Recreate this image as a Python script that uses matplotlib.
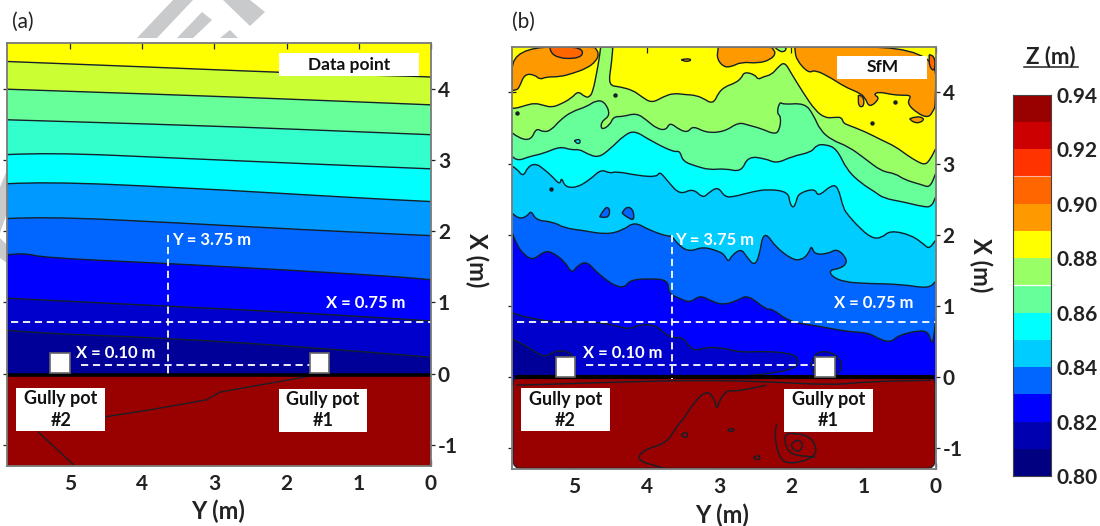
import matplotlib
matplotlib.use("Agg")
import matplotlib.pyplot as plt
from matplotlib.colors import ListedColormap, BoundaryNorm
from matplotlib.lines import Line2D
from matplotlib.patches import FancyBboxPatch, PathPatch, Polygon, Rectangle
from matplotlib.path import Path

plt.rcParams['font.family'] = ['Lato', 'DejaVu Sans']
plt.rcParams['axes.unicode_minus'] = False

W, H = 1100, 526
LINE = '#14202a'

# colour scale
z_levels = [0.80, 0.81, 0.82, 0.83, 0.84, 0.85, 0.86, 0.87, 0.88, 0.89, 0.90, 0.91, 0.92, 0.93, 0.94]
z_colors = ['#000080', '#0000B0', '#0000FF', '#0066FF', '#00CCFF', '#00FFFF', '#66FF99',
            '#99FF66', '#FFFF00', '#FF9900', '#FF6600', '#FF3300', '#CC0000', '#990000']
z_ticks = [0.80, 0.82, 0.84, 0.86, 0.88, 0.90, 0.92, 0.94]

# panel (a), contour lines as (Y, X), highest first
a_y_89 = [5.87, 3.60, 1.70, 0.16, 0.0]
a_x_89 = [4.39, 4.30, 4.22, 4.18, 4.17]
a_y_88 = [5.87, 3.50, 1.70, 0.0]
a_x_88 = [4.00, 3.92, 3.85, 3.78]
a_y_87 = [5.87, 3.50, 1.70, 0.0]
a_x_87 = [3.57, 3.50, 3.43, 3.36]
a_y_86 = [5.87, 5.30, 3.50, 1.70, 0.0]
a_x_86 = [3.08, 3.11, 3.03, 2.95, 2.88]
a_y_85 = [5.87, 5.36, 3.50, 1.00, 0.0]
a_x_85 = [2.67, 2.70, 2.62, 2.47, 2.42]
a_y_84 = [5.87, 5.36, 3.50, 1.70, 0.0]
a_x_84 = [2.18, 2.21, 2.12, 2.02, 1.94]
a_y_83 = [5.87, 5.64, 5.37, 3.66, 1.70, 0.43, 0.0]
a_x_83 = [1.67, 1.70, 1.63, 1.55, 1.44, 1.36, 1.32]
a_y_82 = [5.87, 3.66, 1.70, 0.0]
a_x_82 = [1.06, 0.95, 0.85, 0.74]
a_y_81 = [5.87, 5.50, 3.66, 1.70, 0.0]
a_x_81 = [0.61, 0.57, 0.50, 0.37, 0.23]
a_colors = ['#000099', '#0000CC', '#0000FF', '#0066FF', '#0099FF', '#00FFFF', '#33FFCC',
            '#66FF99', '#CCFF33', '#FFFF00']
a_red_y1 = [4.52, 3.89, 3.11, 2.92, 1.70]
a_red_x1 = [-0.61, -0.51, -0.37, -0.26, -0.04]
a_red_y2 = [5.44, 4.93]
a_red_x2 = [-0.82, -1.30]

# panel (b), contour lines as (Y, X), highest first
b_y_88 = [5.86, 5.83, 5.67, 5.55, 5.43, 5.32, 5.20, 5.04, 4.95, 4.86, 4.79, 4.74, 4.69, 4.66, 4.64, 4.64, 4.47, 4.47,
          4.49, 4.53, 4.37, 4.19, 4.07, 3.93, 3.77, 3.63, 3.47, 3.31, 3.17, 3.13, 3.06, 3.01, 2.92, 2.78, 2.69, 2.65,
          2.50, 2.46, 2.39, 2.27, 2.18, 2.09, 2.00, 1.83, 1.67, 1.53, 1.39, 1.30, 1.28, 1.21, 0.98, 0.75, 0.56, 0.40,
          0.26, 0.15, 0.08, 0.0]
b_x_88 = [3.78, 3.77, 3.82, 3.85, 3.82, 3.79, 3.83, 3.92, 4.02, 3.94, 3.93, 4.03, 4.29, 4.46, 4.61, 4.64, 4.64, 4.61,
          4.39, 4.10, 4.08, 4.03, 3.94, 3.85, 3.94, 3.99, 3.97, 3.96, 3.89, 3.86, 3.87, 3.99, 4.08, 4.13, 4.20, 4.29,
          4.25, 4.18, 4.22, 4.25, 4.36, 4.43, 4.27, 3.99, 3.75, 3.64, 3.65, 3.65, 3.57, 3.54, 3.45, 3.33, 3.24, 3.12,
          3.03, 2.98, 3.05, 3.21]
b_y_87 = [5.86, 5.76, 5.60, 5.53, 5.43, 5.32, 5.20, 5.04, 4.83, 4.70, 4.58, 4.50, 4.63, 4.63, 4.51, 4.46, 4.33, 4.14,
          4.00, 3.86, 3.73, 3.68, 3.54, 3.43, 3.36, 3.17, 2.92, 2.73, 2.59, 2.41, 2.23, 2.16, 2.14, 2.20, 2.16, 2.11,
          1.81, 1.69, 1.60, 1.44, 1.21, 0.98, 0.75, 0.56, 0.43, 0.19, 0.08, 0.0]
b_x_87 = [3.43, 3.35, 3.33, 3.50, 3.44, 3.47, 3.61, 3.73, 3.80, 3.89, 3.87, 3.68, 3.59, 3.47, 3.54, 3.66, 3.66, 3.71,
          3.61, 3.49, 3.47, 3.58, 3.47, 3.44, 3.53, 3.43, 3.45, 3.58, 3.54, 3.49, 3.41, 3.47, 3.66, 3.71, 3.87, 3.83,
          3.85, 3.68, 3.47, 3.33, 3.24, 3.07, 2.89, 2.86, 2.77, 2.70, 2.66, 2.86]
b_y_86 = [5.86, 5.80, 5.62, 5.43, 5.20, 5.04, 4.93, 4.83, 4.67, 4.51, 4.30, 4.16, 3.96, 3.63, 3.54, 3.50, 3.31, 3.13,
          2.92, 2.69, 2.60, 2.36, 2.20, 1.99, 1.72, 1.65, 1.53, 1.37, 1.23, 1.03, 0.84, 0.72, 0.45, 0.17, 0.06, 0.0]
b_x_86 = [3.10, 3.03, 3.10, 3.14, 3.24, 3.19, 3.20, 3.14, 3.08, 3.20, 3.41, 3.46, 3.33, 3.16, 3.18, 3.03, 2.96, 2.91,
          2.93, 2.88, 3.10, 3.07, 3.00, 3.10, 3.16, 3.26, 3.27, 3.21, 2.91, 2.72, 2.60, 2.51, 2.46, 2.39, 2.39, 2.53]
b_y_85 = [5.86, 5.80, 5.71, 5.64, 5.53, 5.41, 5.30, 5.20, 5.18, 5.13, 4.97, 4.79, 4.63, 4.51, 4.42, 4.12, 3.86, 3.82,
          3.70, 3.54, 3.36, 3.22, 3.13, 3.01, 2.92, 2.80, 2.55, 2.32, 2.04, 2.02, 1.97, 1.93, 1.90, 1.67, 1.63, 1.44,
          1.35, 1.28, 1.21, 1.07, 0.89, 0.75, 0.63, 0.33, 0.15, 0.09, 0.0]
b_x_85 = [2.96, 2.93, 2.81, 2.96, 3.00, 2.91, 2.81, 2.70, 2.81, 2.67, 2.66, 2.77, 2.92, 2.86, 2.89, 2.83, 2.81, 2.89,
          2.74, 2.56, 2.65, 2.51, 2.60, 2.67, 2.53, 2.53, 2.60, 2.64, 2.60, 2.44, 2.37, 2.46, 2.58, 2.65, 2.53, 2.70,
          2.67, 2.37, 2.27, 2.11, 1.95, 1.95, 2.06, 1.99, 1.85, 1.80, 1.92]
b_y_84 = [5.86, 5.78, 5.66, 5.60, 5.53, 5.30, 5.13, 4.90, 4.56, 4.33, 4.17, 3.96, 3.70, 3.66, 3.54, 3.40, 3.22, 2.99,
          2.92, 2.87, 2.82, 2.69, 2.62, 2.50, 2.43, 2.40, 2.33, 2.22, 1.99, 1.86, 1.76, 1.72, 1.68, 1.49, 1.37, 1.25,
          1.23, 1.33, 1.47, 1.44, 1.26, 0.93, 0.47, 0.10, 0.0]
b_x_84 = [2.30, 2.22, 2.25, 2.34, 2.20, 2.18, 2.09, 2.06, 2.00, 2.06, 2.18, 2.06, 1.97, 1.99, 1.83, 1.76, 1.83, 1.76,
          1.71, 1.61, 1.71, 1.80, 1.69, 1.55, 1.76, 1.97, 2.00, 1.83, 1.65, 1.64, 1.73, 1.85, 1.72, 1.73, 1.80, 1.69,
          1.59, 1.52, 1.50, 1.41, 1.33, 1.31, 1.30, 1.24, 1.34]
b_y_83 = [5.86, 5.80, 5.69, 5.57, 5.43, 5.32, 5.13, 5.04, 4.95, 4.83, 4.70, 4.56, 4.42, 4.30, 4.23, 3.96, 3.70, 3.70,
          3.54, 3.40, 3.26, 3.08, 2.92, 2.73, 2.60, 2.34, 2.27, 2.02, 1.67, 1.21, 0.93, 0.75, 0.61, 0.52, 0.24, 0.10,
          0.06, 0.03, 0.0]
b_x_83 = [2.02, 1.85, 1.71, 1.64, 1.76, 1.76, 1.62, 1.45, 1.57, 1.62, 1.48, 1.36, 1.27, 1.26, 1.36, 1.38, 1.36, 1.17,
          1.10, 1.04, 1.15, 1.05, 1.01, 1.08, 1.15, 0.94, 0.96, 0.77, 0.72, 0.63, 0.62, 0.51, 0.49, 0.58, 0.65, 0.63,
          0.47, 0.51, 0.82]
b_y_82 = [5.86, 5.76, 5.53, 5.30, 4.65, 4.37, 4.23, 4.12, 3.89, 3.75, 3.63, 3.50, 3.36, 3.17, 2.92, 2.69, 2.41, 1.99,
          1.88, 1.95, 2.32, 2.64, 3.00]
b_x_82 = [0.90, 0.86, 0.81, 0.77, 0.77, 0.70, 0.67, 0.73, 0.73, 0.61, 0.54, 0.56, 0.35, 0.42, 0.40, 0.34, 0.36, 0.33,
          0.23, 0.11, 0.04, 0.01, 0.0]
b_y_82b = [1.73, 1.69, 1.58, 1.44, 1.33, 1.29, 1.35, 1.42, 1.68]
b_x_82b = [0.16, 0.30, 0.36, 0.34, 0.26, 0.14, 0.04, 0.0, 0.0]
b_y_81 = [5.86, 5.67, 5.48, 5.37, 5.30, 5.13, 5.02, 4.97, 5.02]
b_x_81 = [0.53, 0.44, 0.30, 0.29, 0.35, 0.37, 0.30, 0.16, 0.02]
b_orange = [
    ([5.86, 5.80, 5.76, 5.69, 5.55, 5.48, 5.39, 5.20, 5.02, 4.83, 4.70, 4.66, 4.71, 4.71, 5.86],
     [4.03, 4.03, 4.08, 4.26, 4.25, 4.18, 4.22, 4.22, 4.27, 4.34, 4.44, 4.55, 4.62, 4.64, 4.64]),
    ([3.01, 3.01, 3.03, 2.94, 2.83, 2.69, 2.46, 2.29, 2.21, 2.26, 2.26],
     [4.64, 4.62, 4.48, 4.36, 4.36, 4.43, 4.41, 4.46, 4.55, 4.62, 4.64]),
    ([1.95, 1.95, 1.93, 1.76, 1.67, 1.44, 1.26, 1.09, 0.98, 0.92, 0.77, 0.86, 0.79, 0.61, 0.47, 0.33, 0.40, 0.26, 0.10,
      0.03, 0.0, 0.0],
     [4.64, 4.62, 4.46, 4.27, 4.32, 4.20, 4.08, 4.01, 3.94, 3.78, 3.92, 3.97, 4.01, 3.97, 3.96, 3.96, 3.85, 3.71, 3.64,
      3.75, 3.82, 4.64]),
    ([0.36, 0.26, 0.15, 0.22, 0.31], [3.63, 3.67, 3.63, 3.57, 3.58]),
    ([1.07, 1.00, 0.99, 1.07], [3.96, 3.96, 3.80, 3.80]),
    ([3.52, 3.45, 3.37, 3.45], [4.46, 4.48, 4.46, 4.43]),
]
b_dark_orange = [
    ([5.34, 5.33, 4.90, 4.88], [4.64, 4.49, 4.47, 4.64]),
    ([0.09, 0.01, 0.01, 0.09], [4.53, 4.53, 4.29, 4.36]),
]
b_green_y = [2.23, 2.13, 2.04]
b_green_x = [4.64, 4.54, 4.64]
b_cyan_y = [5.00, 4.95, 4.91, 4.95]
b_cyan_x = [3.32, 3.35, 3.31, 3.27]
b_blue = [
    ([4.65, 4.58, 4.51, 4.52, 4.60], [2.25, 2.39, 2.37, 2.25, 2.24]),
    ([4.34, 4.30, 4.19, 4.17, 4.28], [2.30, 2.39, 2.37, 2.19, 2.25]),
]
b_dot_y = [4.44, 0.88, 0.57, 5.79, 5.32]
b_dot_x = [3.96, 3.57, 3.87, 3.71, 2.64]
b_red_lines = [
    ([5.80, 5.11, 4.19, 3.26, 2.34, 1.42, 0.95, 0.06], [-0.12, -0.10, -0.07, -0.05, -0.07, -0.12, -0.07, -0.05]),
    ([3.73, 3.82, 4.14, 4.05, 3.73, 3.59, 3.47, 3.36, 3.17, 3.06, 3.03, 2.99, 2.89, 2.76, 2.34],
     [-1.30, -1.27, -1.18, -1.03, -0.94, -0.71, -0.57, -0.38, -0.19, -0.31, -0.47, -0.33, -0.19, -0.21, -0.12]),
    ([2.20, 2.24, 2.16, 1.97, 1.67, 1.65, 1.74, 1.90, 2.11, 2.06, 1.95, 1.67],
     [-0.66, -0.80, -1.18, -1.23, -1.13, -0.99, -0.85, -0.80, -0.80, -1.03, -1.11, -1.13]),
    ([2.00, 1.93, 1.83, 1.88, 1.97, 2.00], [-0.96, -0.87, -0.94, -1.06, -1.03, -0.96]),
    ([3.52, 3.47, 3.42, 3.47, 3.52], [-0.82, -0.77, -0.82, -0.87, -0.82]),
    ([2.88, 2.83, 2.78, 2.83, 2.88], [-0.75, -0.72, -0.75, -0.78, -0.75]),
    ([2.52, 2.47, 2.42, 2.47, 2.52], [-1.14, -1.10, -1.14, -1.18, -1.14]),
]
b_colors = ['#000099', '#0000CC', '#0000FF', '#0066FF', '#00CCFF', '#00FFFF', '#66FF99', '#99FF66', '#FFFF00',
            '#FF9900', '#FF6600']
RED = '#990000'

y_ticks = [5, 4, 3, 2, 1, 0]
x_ticks = [4, 3, 2, 1, 0, -1]


def px_axes(fig, left, right, top, bottom):
    return fig.add_axes([left / W, 1 - bottom / H, (right - left) / W, (bottom - top) / H])


def curve_verts(pts):
    # quadratic curves through midpoints, so the corners of a traced contour stay round
    verts = [pts[0]]
    codes = [Path.MOVETO]
    for p, q in zip(pts[1:-1], pts[2:]):
        verts += [p, ((p[0] + q[0]) / 2, (p[1] + q[1]) / 2)]
        codes += [Path.CURVE3, Path.CURVE3]
    verts.append(pts[-1])
    codes.append(Path.LINETO)
    return verts, codes


def contour(ax, ys, xs, z=3, closed=False):
    pts = list(zip(ys, xs))
    if closed:
        pts.append(pts[0])
    verts, codes = curve_verts(pts)
    ax.add_patch(PathPatch(Path(verts, codes), fc='none', ec=LINE, lw=1.0, zorder=z))


def fill_below(ax, ys, xs, color, y_left, floor=-0.12):
    verts, codes = curve_verts(list(zip(ys, xs)))
    verts += [(0, floor), (y_left, floor), verts[0]]
    codes += [Path.LINETO, Path.LINETO, Path.LINETO]
    ax.add_patch(PathPatch(Path(verts, codes), fc=color, ec='none', zorder=2))
    contour(ax, ys, xs)


def island(ax, ys, xs, color):
    pts = list(zip(ys, xs))
    pts.append(pts[0])
    verts, codes = curve_verts(pts)
    ax.add_patch(PathPatch(Path(verts, codes), fc=color, ec=LINE, lw=1.0, zorder=3))


def pot_box(ax, y, x0):
    ax.add_patch(Rectangle((y, x0), -0.27, 0.28, fc='white', ec='#666666', lw=1.2, zorder=7))


def label_box(ax, y1, y2, x1, x2, lines, size=13):
    ax.add_patch(Rectangle((y1, x1), y2 - y1, x2 - x1, fc='white', ec='none', zorder=7))
    ax.text((y1 + y2) / 2, (x1 + x2) / 2, lines, ha='center', va='center', fontsize=size, fontweight='bold',
            linespacing=1.3, color='#111111', zorder=8)


def style_axes(ax, xlim, ylim):
    ax.set_xlim(*xlim)
    ax.set_ylim(*ylim)
    ax.set_xticks(y_ticks)
    ax.set_yticks(x_ticks)
    ax.yaxis.tick_right()
    ax.tick_params(axis='x', direction='in', top=True, length=4, width=0.9, labelsize=15, pad=6, colors='#222222')
    ax.tick_params(axis='y', direction='inout', left=True, length=6, width=0.9, labelsize=15, pad=2, colors='#222222')
    for lab in ax.get_xticklabels() + ax.get_yticklabels():
        lab.set_fontweight('bold')
    for s in ax.spines.values():
        s.set_color('#7a7a7a')
        s.set_linewidth(1.3)
        s.set_zorder(9)


def guides(ax, v_y, v_top, h_x, h_from, low_x, low_from, low_to):
    kw = dict(color='white', lw=1.3, dashes=(4, 2.6), zorder=6)
    ax.plot([v_y, v_y], [v_top, -0.03], **kw)
    ax.plot([h_from, 0.0], [h_x, h_x], **kw)
    ax.plot([low_from, low_to], [low_x, low_x], **kw)


fig = plt.figure(figsize=(W / 100, H / 100), dpi=100)

# grey watermark behind the panels
bg = fig.add_axes([0, 0, 1, 1], zorder=-1)
bg.set_xlim(0, W)
bg.set_ylim(H, 0)
bg.axis('off')
for poly in [[(137, 38), (173, 0), (193, 0), (157, 38)], [(177, 38), (202, 12), (212, 20), (193, 38)],
             [(220, 38), (230, 30), (238, 38)], [(223, 0), (250, 0), (265, 12), (250, 26)],
             [(0, 187), (7, 170), (7, 213), (0, 233)], [(0, 238), (7, 245), (7, 263), (0, 258)]]:
    bg.add_patch(Polygon(poly, closed=True, fc='#C9CACC', ec='none'))

# panel (a)
ax = px_axes(fig, 7, 431, 43, 466)
style_axes(ax, (5.87, 0), (-1.30, 4.65))
ax.add_patch(Rectangle((0, -0.12), 5.87, 4.77, fc=a_colors[-1], ec='none', zorder=1))
a_lines = [(a_y_89, a_x_89), (a_y_88, a_x_88), (a_y_87, a_x_87), (a_y_86, a_x_86), (a_y_85, a_x_85),
           (a_y_84, a_x_84), (a_y_83, a_x_83), (a_y_82, a_x_82), (a_y_81, a_x_81)]
for i, (ys, xs) in enumerate(a_lines):
    fill_below(ax, ys, xs, a_colors[-2 - i], 5.87)
ax.add_patch(Rectangle((0, -1.30), 5.87, 1.28, fc=RED, ec='none', zorder=4))
ax.plot(a_red_y1, a_red_x1, color=LINE, lw=0.9, zorder=5)
ax.plot(a_red_y2, a_red_x2, color=LINE, lw=0.9, zorder=5)
ax.plot([5.87, 0], [-0.02, -0.02], color='black', lw=2.6, zorder=5, solid_capstyle='butt')
guides(ax, 3.64, 1.95, 0.73, 5.82, 0.115, 4.84, 1.68)
pot_box(ax, 5.27, 0.01)
pot_box(ax, 1.68, 0.01)
label_box(ax, 2.11, 0.16, 4.18, 4.51, 'Data point', 12.5)
label_box(ax, 5.74, 4.51, -0.81, -0.20, 'Gully pot\n#2')
label_box(ax, 2.11, 0.88, -0.82, -0.21, 'Gully pot\n#1')
wt = dict(color='white', fontsize=12, fontweight='bold', va='center', ha='left', zorder=8)
ax.text(3.58, 1.88, 'Y = 3.75 m', **wt)
ax.text(1.46, 0.99, 'X = 0.75 m', **wt)
ax.text(4.92, 0.29, 'X = 0.10 m', **wt)

# panel (b)
bx = px_axes(fig, 512.3, 935.7, 47, 469)
style_axes(bx, (5.86, 0), (-1.30, 4.64))
bx.add_patch(Rectangle((0, -0.12), 5.86, 4.76, fc=b_colors[8], ec='none', zorder=1))
for ys, xs in b_orange:
    island(bx, ys, xs, b_colors[9])
for ys, xs in b_dark_orange:
    island(bx, ys, xs, b_colors[10])
for i, (ys, xs) in enumerate([(b_y_88, b_x_88), (b_y_87, b_x_87), (b_y_86, b_x_86), (b_y_85, b_x_85),
                              (b_y_84, b_x_84), (b_y_83, b_x_83)]):
    fill_below(bx, ys, xs, b_colors[7 - i], 5.86)
    if i == 0:
        island(bx, b_green_y, b_green_x, b_colors[7])
    if i == 2:
        island(bx, b_cyan_y, b_cyan_x, b_colors[5])
    if i == 3:
        for iy, ix in b_blue:
            island(bx, iy, ix, b_colors[3])
for ys, xs, col in [(b_y_82, b_x_82, b_colors[1]), (b_y_81, b_x_81, b_colors[0])]:
    verts, codes = curve_verts(list(zip(ys, xs)))
    verts += [(5.86, -0.05), verts[0]]
    codes += [Path.LINETO, Path.LINETO]
    bx.add_patch(PathPatch(Path(verts, codes), fc=col, ec='none', zorder=3))
    contour(bx, ys, xs, z=3)
island(bx, b_y_82b, b_x_82b, b_colors[1])
bx.plot(b_dot_y, b_dot_x, ls='none', marker='o', ms=2.2, color=LINE, zorder=4)
bx.add_patch(FancyBboxPatch((0.01, -1.29), 5.84, 1.29, boxstyle='round,pad=0,rounding_size=0.11',
                            fc=RED, ec=LINE, lw=0.8, zorder=4))
for ys, xs in b_red_lines:
    contour(bx, ys, xs, z=5)
bx.plot([5.80, 0.05], [-0.01, -0.01], color='black', lw=3, zorder=5)
guides(bx, 3.65, 2.00, 0.77, 5.80, 0.157, 4.84, 1.67)
pot_box(bx, 5.26, 0.0)
pot_box(bx, 1.67, 0.0)
label_box(bx, 1.36, 0.12, 4.19, 4.52, 'SfM', 12.5)
label_box(bx, 5.74, 4.51, -0.77, -0.16, 'Gully pot\n#2')
label_box(bx, 2.10, 0.87, -0.78, -0.17, 'Gully pot\n#1')
bx.text(3.60, 1.92, 'Y = 3.75 m', **wt)
bx.text(1.41, 1.03, 'X = 0.75 m', **wt)
bx.text(4.88, 0.33, 'X = 0.10 m', **wt)

# colour bar
cax = px_axes(fig, 1013, 1051, 94.5, 476)
cmap = ListedColormap(z_colors)
cax.pcolormesh([0, 1], z_levels, [[z] for z in z_levels[:-1]], cmap=cmap, norm=BoundaryNorm(z_levels, cmap.N))
cax.set_xticks([])
cax.set_yticks(z_ticks)
cax.set_yticklabels([f'{t:.2f}' for t in z_ticks], fontsize=15, fontweight='bold', color='#222222')
cax.yaxis.tick_right()
cax.tick_params(axis='y', length=0, pad=4)
cax.axhline(0.87, color='white', lw=0.9)
cax.axhline(0.91, color='#ffb0a0', lw=0.8)
for s in cax.spines.values():
    s.set_color('#444444')
    s.set_linewidth(0.8)

# labels in figure space
ftxt = dict(transform=fig.transFigure, ha='center', va='center', color='#222222')
fig.text(23 / W, 1 - 22 / H, '(a)', fontsize=15, **ftxt)
fig.text(523 / W, 1 - 22 / H, '(b)', fontsize=15, **ftxt)
fig.text(218 / W, 1 - 511 / H, 'Y (m)', fontsize=17, fontweight='bold', **ftxt)
fig.text(722 / W, 1 - 515 / H, 'Y (m)', fontsize=17, fontweight='bold', **ftxt)
fig.text(477 / W, 1 - 260 / H, 'X (m)', fontsize=17, fontweight='bold', rotation=270, **ftxt)
fig.text(981 / W, 1 - 265 / H, 'X (m)', fontsize=17, fontweight='bold', rotation=270, **ftxt)
fig.text(1051 / W, 1 - 57 / H, 'Z (m)', fontsize=16, fontweight='bold', **ftxt)
fig.add_artist(Line2D([1024 / W, 1078 / W], [1 - 67 / H, 1 - 67 / H], color='#222222', lw=1.1))

fig.savefig('out.png', dpi=100)
